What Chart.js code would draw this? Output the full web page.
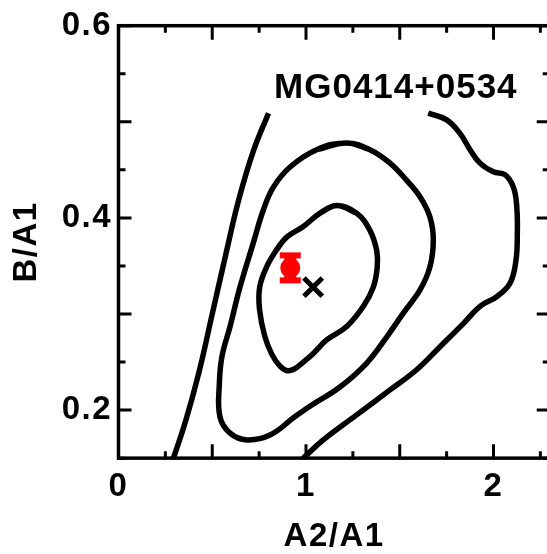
<!DOCTYPE html>
<html>
<head>
<meta charset="utf-8">
<script src="https://cdn.jsdelivr.net/npm/chart.js@4/dist/chart.umd.min.js"></script>
<style>
  html, body { margin: 0; padding: 0; overflow: hidden; background: #fff; }
  #wrap { width: 547px; height: 554px; overflow: hidden; position: relative; }
  canvas { display: block; }
</style>
</head>
<body>
<div id="wrap"><canvas id="c" width="556" height="554"></canvas></div>
<script>
// Axis ranges
const xRange = [0, 2.3];
const yRange = [0.15, 0.6];

// Tick marks (every 0.25 in A2/A1, every 0.05 in B/A1) and their labels
const xTickValues = [0, 0.25, 0.5, 0.75, 1, 1.25, 1.5, 1.75, 2, 2.25];
const xLabelValues = [0, 1, 2];
const xLabels = ['0', '1', '2'];
const yTickValues = [0.15, 0.2, 0.25, 0.3, 0.35, 0.4, 0.45, 0.5, 0.55, 0.6];
const yLabelValues = [0.2, 0.4, 0.6];
const yLabels = ['0.2', '0.4', '0.6'];

// Likelihood contours in the (A2/A1, B/A1) plane
const contourInner = [
  [1.164, 0.413], [1.270, 0.405], [1.341, 0.387], [1.377, 0.366], [1.380, 0.349],
  [1.359, 0.328], [1.306, 0.308], [1.217, 0.287], [1.110, 0.273], [1.039, 0.259],
  [0.986, 0.250], [0.940, 0.243], [0.900, 0.241], [0.860, 0.246], [0.818, 0.258],
  [0.780, 0.277], [0.752, 0.305], [0.753, 0.328], [0.790, 0.349], [0.844, 0.367],
  [0.897, 0.380], [0.986, 0.391], [1.075, 0.405]
];
const contourMiddle = [
  [1.217, 0.478], [1.341, 0.471], [1.448, 0.457], [1.537, 0.439], [1.608, 0.422],
  [1.661, 0.401], [1.679, 0.377], [1.661, 0.349], [1.608, 0.325], [1.519, 0.301],
  [1.430, 0.276], [1.324, 0.249], [1.181, 0.224], [1.021, 0.204], [0.940, 0.193],
  [0.808, 0.174], [0.684, 0.169], [0.595, 0.176], [0.541, 0.193], [0.538, 0.228],
  [0.552, 0.256], [0.595, 0.287], [0.648, 0.328], [0.719, 0.374], [0.772, 0.408],
  [0.826, 0.432], [0.915, 0.453], [1.057, 0.471]
];
const contourOuterLeft = [
  [0.280, 0.143], [0.293, 0.150], [0.360, 0.190], [0.430, 0.240], [0.500, 0.300],
  [0.570, 0.360], [0.640, 0.418], [0.720, 0.470], [0.800, 0.509]
];
const contourOuterRight = [
  [1.652, 0.509], [1.750, 0.502], [1.821, 0.488], [1.875, 0.471], [1.928, 0.457],
  [1.999, 0.448], [2.061, 0.445], [2.106, 0.432], [2.124, 0.412], [2.127, 0.384],
  [2.120, 0.356], [2.088, 0.332], [2.017, 0.318], [1.928, 0.308], [1.839, 0.290],
  [1.715, 0.266], [1.590, 0.242], [1.448, 0.221], [1.270, 0.195], [1.092, 0.169],
  [0.986, 0.150], [0.958, 0.145]
];

// Observed flux ratio (with 1-sigma error in B/A1) and best-fit model
const measuredX = [0.916];
const measuredY = [0.348];
const measuredErr = [0.013];
const bestFitX = [1.038];
const bestFitY = [0.328];

// Lens name, placed in data coordinates (centre x, baseline y)
const lensName = 'MG0414+0534';
const lensNameX = 1.479;
const lensNameY = 0.5245;

const FONT = "'Liberation Sans', Arial, Helvetica, sans-serif";

const toXY = pts => pts.map(([x, y]) => ({ x, y }));
// Wrap a ring so the smoothed path closes without a corner
const closedRing = pts => toXY([pts[pts.length - 1], ...pts, pts[0], pts[1]]);
const isMultiple = (v, step) => Math.abs(v / step - Math.round(v / step)) < 1e-6;
const labelFor = (v, values, labels) => {
  const i = values.findIndex(u => Math.abs(u - v) < 1e-9);
  return i >= 0 ? labels[i] : '';
};

const contourStyle = {
  showLine: true,
  borderColor: '#000',
  borderWidth: 5.5,
  pointRadius: 0,
  tension: 0.4,
  fill: false,
  clip: 0,
  borderCapStyle: 'butt',
  borderJoinStyle: 'round'
};

const spacedText = {
  id: 'spacedText',
  beforeDraw(chart) { chart.ctx.letterSpacing = '1.5px'; },
  afterDraw(chart) { chart.ctx.letterSpacing = '0px'; }
};

const errorBars = {
  id: 'errorBars',
  afterDatasetsDraw(chart) {
    const { ctx, scales: { x, y } } = chart;
    ctx.save();
    ctx.fillStyle = '#ff0000';
    measuredX.forEach((mx, i) => {
      const px = x.getPixelForValue(mx);
      const yHi = y.getPixelForValue(measuredY[i] + measuredErr[i]);
      const yLo = y.getPixelForValue(measuredY[i] - measuredErr[i]);
      ctx.fillRect(px - 6, yHi, 12, yLo - yHi);
      ctx.fillRect(px - 10.5, yHi - 3, 21, 6);
      ctx.fillRect(px - 10.5, yLo - 3, 21, 6);
    });
    ctx.restore();
  }
};

const frameAndTicks = {
  id: 'frameAndTicks',
  afterDatasetsDraw(chart) {
    const { ctx, chartArea: a, scales: { x, y } } = chart;
    ctx.save();
    ctx.strokeStyle = '#000';
    ctx.lineWidth = 3;
    ctx.beginPath();
    x.ticks.forEach(t => {
      const px = x.getPixelForValue(t.value);
      const len = isMultiple(t.value, 0.5) ? 14 : 7;
      ctx.moveTo(px, a.top); ctx.lineTo(px, a.top + len);
      ctx.moveTo(px, a.bottom); ctx.lineTo(px, a.bottom - len);
    });
    y.ticks.forEach(t => {
      const py = y.getPixelForValue(t.value);
      const len = isMultiple(t.value, 0.1) ? 13 : 7;
      ctx.moveTo(a.left, py); ctx.lineTo(a.left + len, py);
      ctx.moveTo(a.right, py); ctx.lineTo(a.right - len, py);
    });
    ctx.stroke();
    ctx.lineWidth = 3.5;
    ctx.strokeRect(a.left, a.top, a.right - a.left, a.bottom - a.top);
    ctx.restore();
  }
};

const nameLabel = {
  id: 'nameLabel',
  afterDatasetsDraw(chart) {
    const { ctx, scales: { x, y } } = chart;
    ctx.save();
    ctx.letterSpacing = '1px';
    ctx.font = 'bold 35px ' + FONT;
    ctx.fillStyle = '#000';
    ctx.textAlign = 'center';
    ctx.textBaseline = 'alphabetic';
    ctx.fillText(lensName, x.getPixelForValue(lensNameX), y.getPixelForValue(lensNameY));
    ctx.restore();
  }
};

new Chart(document.getElementById('c'), {
  type: 'scatter',
  data: {
    datasets: [
      { ...contourStyle, data: closedRing(contourInner) },
      { ...contourStyle, data: closedRing(contourMiddle) },
      { ...contourStyle, data: toXY(contourOuterLeft) },
      { ...contourStyle, data: toXY(contourOuterRight) },
      {
        data: measuredX.map((v, i) => ({ x: v, y: measuredY[i] })),
        pointStyle: 'circle', pointRadius: 10,
        backgroundColor: '#ff0000', borderWidth: 0
      },
      {
        data: bestFitX.map((v, i) => ({ x: v, y: bestFitY[i] })),
        pointStyle: 'crossRot', pointRadius: 13,
        borderColor: '#000', borderWidth: 5, backgroundColor: '#000'
      }
    ]
  },
  options: {
    responsive: false,
    animation: false,
    events: [],
    layout: { autoPadding: false, padding: { left: 0, top: 25.7, right: 6.25, bottom: 0 } },
    plugins: { legend: { display: false }, tooltip: { enabled: false } },
    scales: {
      x: {
        type: 'linear',
        min: xRange[0],
        max: xRange[1],
        afterBuildTicks: s => { s.ticks = xTickValues.map(v => ({ value: v })); },
        afterFit: s => { s.height = 95.85; s.paddingLeft = 0; s.paddingRight = 0; },
        grid: { display: false, drawTicks: false },
        border: { display: false },
        ticks: {
          autoSkip: false, maxRotation: 0, minRotation: 0, padding: 8.7,
          color: '#000', font: { family: FONT, size: 33, weight: 'bold' },
          callback: v => labelFor(v, xLabelValues, xLabels)
        },
        title: {
          display: true, text: 'A2/A1', color: '#000',
          font: { family: FONT, size: 33, weight: 'bold', lineHeight: 1 },
          padding: { top: 0, bottom: 1 }
        }
      },
      y: {
        type: 'linear',
        min: yRange[0],
        max: yRange[1],
        afterBuildTicks: s => { s.ticks = yTickValues.map(v => ({ value: v })); },
        afterFit: s => { s.width = 118.5; s.paddingTop = 0; s.paddingBottom = 0; },
        grid: { display: false, drawTicks: false },
        border: { display: false },
        ticks: {
          autoSkip: false, padding: 6.5,
          color: '#000', font: { family: FONT, size: 33, weight: 'bold' },
          callback: v => labelFor(v, yLabelValues, yLabels)
        },
        title: {
          display: true, text: 'B/A1', color: '#000',
          font: { family: FONT, size: 33, weight: 'bold', lineHeight: 1 },
          padding: { top: 10, bottom: 0 }
        }
      }
    }
  },
  plugins: [spacedText, errorBars, frameAndTicks, nameLabel]
});
</script>
</body>
</html>
